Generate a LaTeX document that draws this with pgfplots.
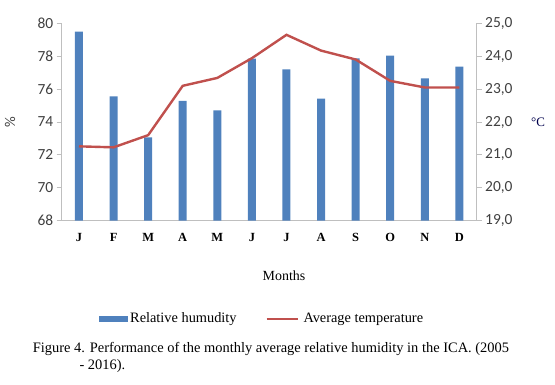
\documentclass[border=0pt]{standalone}
\usepackage{fontspec}
\setmainfont{Liberation Serif}
\newfontfamily\calfont{Carlito}
\usepackage{pgfplots}
\pgfplotsset{compat=1.18}
\definecolor{barblue}{HTML}{4F81BD}
\definecolor{linered}{HTML}{C0504D}
\definecolor{axgray}{HTML}{BFBFBF}
\definecolor{ticktext}{HTML}{404040}
\begin{document}
\begin{tikzpicture}[x=1bp,y=1bp]
\useasboundingbox (0bp,0bp) rectangle (555bp,385bp);
\begin{axis}[
  at={(61.7bp,164.3bp)}, anchor=south west,
  scale only axis, width=415bp, height=197.4bp,
  xmin=-0.5, xmax=11.5, ymin=68, ymax=80,
  ytick={68,70,...,80},
  xtick={0,...,11},
  xticklabels={J,F,M,A,M,J,J,A,S,O,N,D},
  x tick label style={font=\fontsize{12.5}{14}\selectfont\bfseries, text=black, yshift=-4bp},
  y tick label style={font=\fontsize{15.5}{17}\calfont, text=ticktext},
  /pgf/number format/assume math mode=true,
  axis x line*=bottom, axis y line*=left,
  axis line style={axgray, line width=0.8bp},
  x axis line style={-}, y axis line style={-},
  tick style={axgray, line width=0.8bp},
  major tick length=5bp,
  tick align=outside,
  xtick style={draw=none},
  ytick style={axgray},
  enlargelimits=false,
  clip=false,
]
\addplot[ybar, bar width=8bp, fill=barblue, draw=none] coordinates {
(0,79.49) (1,75.56) (2,73.07) (3,75.29) (4,74.71) (5,77.85)
(6,77.20) (7,75.42) (8,77.87) (9,78.03) (10,76.65) (11,77.36)};
\end{axis}
\begin{axis}[
  at={(61.7bp,164.3bp)}, anchor=south west,
  scale only axis, width=415bp, height=197.4bp,
  xmin=-0.5, xmax=11.5, ymin=19, ymax=25,
  ytick={19,20,...,25},
  yticklabel={\pgfmathprintnumber[fixed,fixed zerofill,precision=1,use comma]{\tick}},
  y tick label style={font=\fontsize{15.5}{17}\calfont, text=ticktext},
  /pgf/number format/assume math mode=true,
  axis x line=none, axis y line*=right,
  axis line style={axgray, line width=0.8bp},
  y axis line style={-},
  tick style={axgray, line width=0.8bp},
  major tick length=5bp,
  tick align=outside,
  xtick=\empty,
  clip=false,
]
\addplot[linered, line width=2.4bp, mark=none] coordinates {
(0,21.26) (1,21.23) (2,21.60) (3,23.10) (4,23.34) (5,23.94)
(6,24.65) (7,24.17) (8,23.90) (9,23.25) (10,23.05) (11,23.05)};
\end{axis}
% axis titles, legend, caption
\node[rotate=90, font=\fontsize{15}{17}\calfont, text=ticktext, inner sep=0] at (10bp,262.5bp) {\%};
\node[font=\fontsize{13}{15}\selectfont, text={black!70!blue}] at (538bp,263bp) {\textdegree C};
\node[font=\fontsize{14}{16}\selectfont] at (284bp,109bp) {Months};
\fill[barblue] (99bp,63bp) rectangle (128.3bp,69bp);
\node[anchor=west, font=\fontsize{14.4}{16}\selectfont, inner sep=0] at (130bp,65.7bp) {Relative humudity};
\draw[linered, line width=2.4bp] (266.7bp,65.7bp) -- (297.7bp,65.7bp);
\node[anchor=west, font=\fontsize{14.4}{16}\selectfont, inner sep=0] at (303.3bp,65.7bp) {Average temperature};
\node[anchor=base west, font=\fontsize{14.5}{16}\selectfont, inner sep=0] at (32.7bp,33bp) {Figure 4. Performance of the monthly average relative humidity in the ICA. (2005};
\node[anchor=base west, font=\fontsize{14.5}{16}\selectfont, inner sep=0] at (79.3bp,16bp) {- 2016).};
\end{tikzpicture}
\end{document}
